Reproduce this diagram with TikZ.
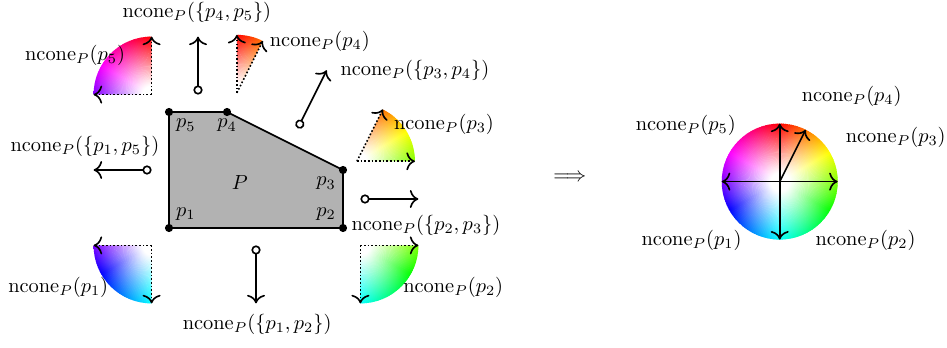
\documentclass[tikz,border=0pt]{standalone}
\usetikzlibrary{arrows.meta}
\newcommand{\ncone}{\mathrm{ncone}_P}
\definecolor{huecol}{rgb}{1,0,0}
\pgfdeclareradialshading[huecol]{hueshade}{\pgfpoint{0bp}{0bp}}{%
  color(0bp)=(white); color(4bp)=(white); color(12.5bp)=(huecol!40!white);
  color(25bp)=(huecol); color(50bp)=(huecol)}
% colour wheel sector: apex, start angle, end angle, slices
\newcommand{\huesector}[4]{%
  \pgfmathsetmacro{\hsstep}{(#3-#2)/#4}%
  \begin{scope}
    \clip #1 -- ++(#2:1) arc[start angle=#2,end angle=#3,radius=1] -- cycle;
    \foreach \i in {1,...,#4}{%
      \pgfmathsetmacro{\hsa}{#2+(\i-1)*\hsstep}%
      \pgfmathsetmacro{\hsb}{\hsa+\hsstep+0.6}%
      \pgfmathsetmacro{\hsh}{mod(450-\hsa-\hsstep/2,360)}%
      \definecolor{huecol}{Hsb}{\hsh,1,1}%
      \begin{scope}
        \clip #1 -- ++(\hsa:1.1) arc[start angle=\hsa,end angle=\hsb,radius=1.1] -- cycle;
        \shade[shading=hueshade] #1 circle (1);
      \end{scope}
    }
  \end{scope}
}
\begin{document}
\begin{tikzpicture}[>={To[scale=1.25]},line join=round,
  edgearrow/.style={thick,{Circle[open,length=4.5pt,width=4.5pt]}->},
  conearrow/.style={thick,densely dotted,->}]
\useasboundingbox (-2.914,-2.052) rectangle (13.414,3.931);
% the polygon
\coordinate (p1) at (0,0);
\coordinate (p2) at (3,0);
\coordinate (p3) at (3,1);
\coordinate (p4) at (1,2);
\coordinate (p5) at (0,2);
\draw[thick,fill=black!30] (p1) -- (p2) -- (p3) -- (p4) -- (p5) -- cycle;
\foreach \i in {1,...,5} \fill (p\i) circle (2pt);
\node[above right] (l1) at (p1) {$p_1$};
\node[above left] (l2) at (p2) {$p_2$};
\node[below left] (l3) at (p3) {$p_3$};
\node[below] (l4) at (p4) {$p_4$};
\node[below right] (l5) at (p5) {$p_5$};
\node (lP) at (1.22,0.78) {$P$};
% edge normals
\coordinate (e45) at (0.5,2.3);  \coordinate (n45) at (0.5,3.3);
\coordinate (e34) at (2.22,1.72); \coordinate (n34) at (2.72,2.72);
\coordinate (e23) at (3.3,0.5);  \coordinate (n23) at (4.3,0.5);
\coordinate (e12) at (1.5,-0.3); \coordinate (n12) at (1.5,-1.3);
\coordinate (e15) at (-0.3,1);   \coordinate (n15) at (-1.3,1);
\draw[edgearrow] (e45) -- (n45);
\draw[edgearrow] (e34) -- (n34);
\draw[edgearrow] (e23) -- (n23);
\draw[edgearrow] (e12) -- (n12);
\draw[edgearrow] (e15) -- (n15);
\node (t45) at (0.48,3.72) {$\ncone(\{p_4,p_5\})$};
\node (t34) at (4.24,2.72) {$\ncone(\{p_3,p_4\})$};
\node (t23) at (4.43,0.05) {$\ncone(\{p_2,p_3\})$};
\node (t12) at (1.52,-1.66) {$\ncone(\{p_1,p_2\})$};
\node (t15) at (-1.45,1.41) {$\ncone(\{p_1,p_5\})$};
% vertex cones
\coordinate (c1) at (-0.3,-0.3);
\coordinate (c2) at (3.3,-0.3);
\coordinate (c3) at (3.24,1.15);
\coordinate (c4) at (1.17,2.33);
\coordinate (c5) at (-0.3,2.3);
\huesector{(c1)}{180}{270}{45}
\huesector{(c2)}{-90}{0}{45}
\huesector{(c3)}{0}{63.435}{32}
\huesector{(c4)}{63.435}{90}{14}
\huesector{(c5)}{90}{180}{45}
\path (c1) ++(180:1) coordinate (c1a) (c1) ++(270:1) coordinate (c1b);
\path (c2) ++(-90:1) coordinate (c2a) (c2) ++(0:1) coordinate (c2b);
\path (c3) ++(0:1) coordinate (c3a) (c3) ++(63.435:1) coordinate (c3b);
\path (c4) ++(63.435:1) coordinate (c4a) (c4) ++(90:1) coordinate (c4b);
\path (c5) ++(90:1) coordinate (c5a) (c5) ++(180:1) coordinate (c5b);
\foreach \i in {1,...,5}{
  \draw[conearrow] (c\i) -- (c\i a);
  \draw[conearrow] (c\i) -- (c\i b);
}
\node (v1) at (-1.91,-1.03) {$\ncone(p_1)$};
\node (v2) at (4.90,-1.02) {$\ncone(p_2)$};
\node (v3) at (4.74,1.78) {$\ncone(p_3)$};
\node (v4) at (2.60,3.21) {$\ncone(p_4)$};
\node (v5) at (-1.62,2.98) {$\ncone(p_5)$};
\node (imp) at (6.91,0.86) {$\Longrightarrow$};
% normal fan on the circle
\coordinate (o) at (10.53,0.8);
\huesector{(o)}{0}{360}{180}
\path (o) ++(0:1) coordinate (f2) (o) ++(63.435:1) coordinate (f34)
  (o) ++(90:1) coordinate (f45) (o) ++(180:1) coordinate (f15)
  (o) ++(270:1) coordinate (f12);
\foreach \f in {f2,f34,f45,f15,f12}
  \draw[thick,->] (o) -- (\f);
\node (w4) at (11.77,2.27) {$\ncone(p_4)$};
\node (w5) at (8.91,1.77) {$\ncone(p_5)$};
\node (w3) at (12.53,1.56) {$\ncone(p_3)$};
\node (w1) at (9.01,-0.22) {$\ncone(p_1)$};
\node (w2) at (12.01,-0.22) {$\ncone(p_2)$};
\end{tikzpicture}
\end{document}
